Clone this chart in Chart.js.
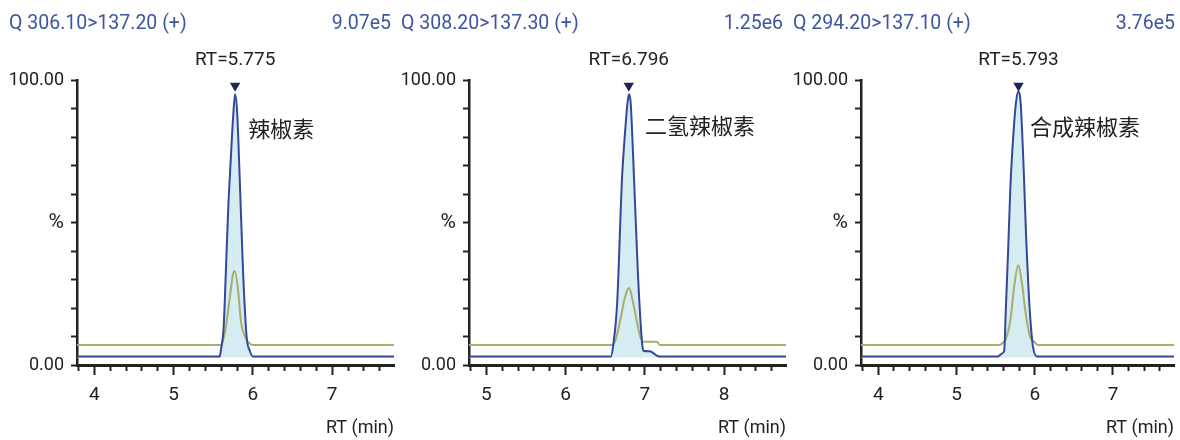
<!DOCTYPE html>
<html>
<head>
<meta charset="utf-8">
<script src="https://cdn.jsdelivr.net/npm/chart.js@4.4.1/dist/chart.umd.min.js"></script>
<style>
  html, body { margin: 0; padding: 0; background: #fff; }
  #wrap { position: relative; width: 1180px; height: 440px; overflow: hidden; }
  .panel { position: absolute; top: 0; }
</style>
</head>
<body>
<div id="wrap">
  <div class="panel" style="left:0"><canvas id="c1" width="400" height="440"></canvas></div>
  <div class="panel" style="left:392px"><canvas id="c2" width="400" height="440"></canvas></div>
  <div class="panel" style="left:784px"><canvas id="c3" width="396" height="440"></canvas></div>
</div>
<script>
// ---- data ----
const transitions = ['Q 306.10>137.20 (+)', 'Q 308.20>137.30 (+)', 'Q 294.20>137.10 (+)'];
const intensities = ['9.07e5', '1.25e6', '3.76e5'];
const compounds = ['辣椒素', '二氢辣椒素', '合成辣椒素'];
const retentionTimes = [5.775, 6.796, 5.793];

const yTickValues = [0, 50, 100];
const yTickLabels = ['0.00', '%', '100.00'];
const xTickLabels1 = [4, 5, 6, 7];
const xTickLabels2 = [5, 6, 7, 8];
const xTickLabels3 = [4, 5, 6, 7];

// panel 1 - quantifier (blue) and qualifier (olive), time in min, intensity in %
const quantTime1 = [3.78, 5.58, 5.60, 5.63, 5.66, 5.69, 5.72, 5.75, 5.775, 5.80, 5.83, 5.875, 5.92, 5.96, 6.00, 7.78];
const quantInt1  = [3.0, 3.0, 6, 13, 34, 56, 72, 87, 95, 89, 68, 33, 10, 5, 3.0, 3.0];
const qualTime1  = [3.78, 5.60, 5.65, 5.71, 5.75, 5.77, 5.81, 5.85, 5.90, 5.94, 6.00, 7.78];
const qualInt1   = [7, 7, 12, 24, 32, 33, 27, 15, 10, 8, 7, 7];

// panel 2
const quantTime2 = [4.78, 6.57, 6.60, 6.65, 6.71, 6.75, 6.78, 6.80, 6.82, 6.85, 6.91, 6.96, 6.98, 7.06, 7.14, 7.18, 8.78];
const quantInt2  = [3.0, 3.0, 7, 22, 65, 82, 92, 95, 92, 74, 33, 9, 5, 4.8, 3.5, 3.0, 3.0];
const qualTime2  = [4.78, 6.58, 6.63, 6.69, 6.75, 6.80, 6.85, 6.90, 6.94, 6.98, 7.15, 7.19, 8.78];
const qualInt2   = [7, 7, 8.8, 16, 24, 27, 22, 15, 10, 8.2, 8.2, 7, 7];

// panel 3
const quantTime3 = [3.78, 5.53, 5.58, 5.61, 5.63, 5.66, 5.69, 5.73, 5.76, 5.79, 5.82, 5.86, 5.89, 5.92, 5.95, 5.98, 6.03, 7.78];
const quantInt3  = [3.0, 3.0, 4, 5, 19, 40, 63, 82, 92, 96, 92, 68, 45, 27, 14, 6, 3.0, 3.0];
const qualTime3  = [3.78, 5.55, 5.59, 5.63, 5.69, 5.74, 5.79, 5.84, 5.88, 5.94, 6.00, 6.04, 7.78];
const qualInt3   = [7, 7, 7.8, 9, 16, 28, 35, 28, 19, 10, 8, 7, 7];

const headerBlue = '#3c55a2';
const lineBlue = '#34489a';
const fillBlue = '#d5ecf2';
const olive = '#a9ac6c';
const marker = '#1f2750';
const ink = '#222';
const family = 'Roboto';

function toPoints(t, v) {
    return t.map((x, i) => ({ x: x, y: v[i] }));
}

const annotate = {
    id: 'annotate',
    afterDraw(chart, args, opts) {
        const ctx = chart.ctx;
        const x = chart.scales.x;
        const y = chart.scales.y;
        ctx.save();
        ctx.textBaseline = 'middle';
        ctx.fillStyle = headerBlue;
        ctx.font = '19.5px ' + family;
        ctx.textAlign = 'left';
        ctx.fillText(opts.transition, 9, 24);
        ctx.textAlign = 'right';
        ctx.fillText(opts.intensity, 391, 24);

        ctx.fillStyle = ink;
        ctx.font = '19px ' + family;
        ctx.textAlign = 'center';
        ctx.fillText('RT=' + opts.rt.toFixed(3), x.getPixelForValue(opts.rt), 60);

        ctx.font = '22px "Noto Sans CJK SC"';
        ctx.textAlign = 'left';
        ctx.fillText(opts.compound, x.getPixelForValue(opts.labelAt[0]), y.getPixelForValue(opts.labelAt[1]));
        ctx.restore();
    }
};

function makeChart(id, p) {
    new Chart(document.getElementById(id), {
        type: 'line',
        data: {
            datasets: [
                {
                    data: [{ x: p.rt, y: 98 }],
                    showLine: false,
                    pointStyle: 'triangle',
                    pointRotation: 180,
                    pointRadius: 6,
                    pointBackgroundColor: marker,
                    pointBorderColor: marker,
                    pointBorderWidth: 0
                },
                {
                    data: toPoints(p.quantTime, p.quantInt),
                    borderColor: lineBlue,
                    borderWidth: 2,
                    backgroundColor: fillBlue,
                    fill: { value: 2.6 },
                    pointRadius: 0,
                    cubicInterpolationMode: 'monotone'
                },
                {
                    data: toPoints(p.qualTime, p.qualInt),
                    borderColor: olive,
                    borderWidth: 2,
                    fill: false,
                    pointRadius: 0,
                    cubicInterpolationMode: 'monotone'
                }
            ]
        },
        options: {
            responsive: false,
            animation: false,
            events: [],
            layout: { padding: { top: 80, right: p.padRight, left: 0, bottom: 0 } },
            plugins: {
                legend: { display: false },
                tooltip: { enabled: false },
                filler: { drawTime: 'beforeDatasetsDraw' },
                annotate: {
                    transition: p.transition,
                    intensity: p.intensity,
                    rt: p.rt,
                    compound: p.compound,
                    labelAt: p.labelAt
                }
            },
            scales: {
                x: {
                    type: 'linear',
                    min: p.min,
                    max: p.max,
                    afterBuildTicks(axis) {
                        const ticks = [];
                        for (let i = Math.ceil(axis.min * 5); i <= Math.floor(axis.max * 5); i++) {
                            ticks.push({ value: i / 5 });
                        }
                        axis.ticks = ticks;
                    },
                    afterFit(axis) { axis.height = 75; },
                    ticks: {
                        autoSkip: false,
                        maxRotation: 0,
                        padding: 9,
                        color: ink,
                        font: { family: family, size: 19 },
                        callback: (v) => p.xLabels.includes(v) ? String(v) : ''
                    },
                    grid: {
                        drawOnChartArea: false,
                        tickLength: 10,
                        tickWidth: 2,
                        tickColor: ink,
                        tickBorderDash: (c) => (c.tick && Number.isInteger(c.tick.value)) ? [] : [4, 30]
                    },
                    border: { color: ink, width: 3 },
                    title: {
                        display: true,
                        text: 'RT (min)',
                        align: 'end',
                        color: ink,
                        font: { family: family, size: 18 },
                        padding: { top: 0, bottom: 1 }
                    }
                },
                y: {
                    min: 0,
                    max: 100,
                    afterFit(axis) { axis.width = 77; },
                    ticks: {
                        stepSize: 10,
                        padding: 7,
                        color: ink,
                        font: (c) => ({ family: family, size: (c.tick && c.tick.value === 50) ? 21 : 18 }),
                        callback: (v) => {
                            const k = yTickValues.indexOf(v);
                            return k >= 0 ? yTickLabels[k] : '';
                        }
                    },
                    grid: {
                        drawOnChartArea: false,
                        tickLength: 6,
                        tickWidth: 2,
                        tickColor: ink
                    },
                    border: { color: ink, width: 2.5 }
                }
            }
        },
        plugins: [annotate]
    });
}

makeChart('c1', {
    transition: transitions[0], intensity: intensities[0], compound: compounds[0], rt: retentionTimes[0],
    quantTime: quantTime1, quantInt: quantInt1, qualTime: qualTime1, qualInt: qualInt1,
    xLabels: xTickLabels1, min: 3.78, max: 7.78, padRight: 3, labelAt: [5.94, 83]
});
makeChart('c2', {
    transition: transitions[1], intensity: intensities[1], compound: compounds[1], rt: retentionTimes[1],
    quantTime: quantTime2, quantInt: quantInt2, qualTime: qualTime2, qualInt: qualInt2,
    xLabels: xTickLabels2, min: 4.78, max: 8.78, padRight: 3, labelAt: [7.0, 84]
});
makeChart('c3', {
    transition: transitions[2], intensity: intensities[2], compound: compounds[2], rt: retentionTimes[2],
    quantTime: quantTime3, quantInt: quantInt3, qualTime: qualTime3, qualInt: qualInt3,
    xLabels: xTickLabels3, min: 3.78, max: 7.78, padRight: 0, labelAt: [5.94, 83.5]
});
</script>
</body>
</html>
